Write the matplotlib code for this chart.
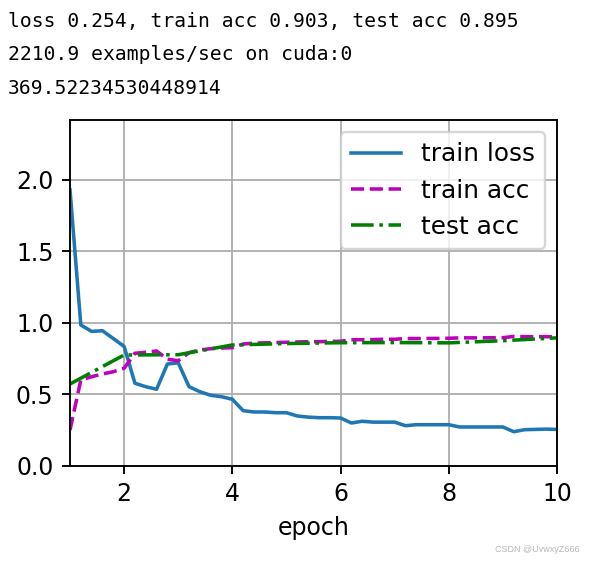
import numpy as np
import matplotlib
matplotlib.use('Agg')
import matplotlib.pyplot as plt

# values (5 records per epoch, test acc once per epoch)
train_x = np.round(np.arange(1.0, 10.01, 0.2), 1)
train_loss = [1.93, 0.985, 0.94, 0.945, 0.89, 0.835,
              0.577, 0.553, 0.535, 0.712, 0.72,
              0.553, 0.518, 0.493, 0.483, 0.465,
              0.385, 0.376, 0.376, 0.371, 0.371,
              0.348, 0.34, 0.336, 0.336, 0.334,
              0.299, 0.311, 0.305, 0.305, 0.305,
              0.28, 0.287, 0.287, 0.287, 0.287,
              0.271, 0.271, 0.271, 0.271, 0.271,
              0.238, 0.252, 0.254, 0.256, 0.254]
train_acc = [0.25, 0.60, 0.623, 0.642, 0.658, 0.682,
             0.787, 0.794, 0.803, 0.745, 0.735,
             0.791, 0.81, 0.819, 0.824, 0.826,
             0.852, 0.858, 0.86, 0.862, 0.864,
             0.866, 0.868, 0.868, 0.87, 0.871,
             0.882, 0.882, 0.883, 0.885, 0.885,
             0.89, 0.89, 0.891, 0.891, 0.892,
             0.895, 0.895, 0.895, 0.896, 0.896,
             0.905, 0.903, 0.903, 0.903, 0.903]
test_x = [1, 2, 3, 4, 5, 6, 7, 8, 9, 10]
test_acc = [0.572, 0.775, 0.777, 0.845, 0.855, 0.861, 0.862, 0.860, 0.875, 0.895]

legend = ['train loss', 'train acc', 'test acc']
printed = ['loss 0.254, train acc 0.903, test acc 0.895',
           '2210.9 examples/sec on cuda:0',
           '369.52234530448914']

fig = plt.figure(figsize=(599 / 170, 561 / 170), dpi=170)
ax = fig.add_axes([70 / 599, 1 - 465.7 / 561, 487 / 599, 345.7 / 561])

ax.plot(train_x, train_loss, '-', color='C0', lw=1.5)
ax.plot(train_x, train_acc, 'm--', lw=1.5)
ax.plot(test_x, test_acc, 'g-.', lw=1.5)

ax.set_xlim(1, 10)
ax.set_ylim(0, 2.42)
ax.set_yticks([0.0, 0.5, 1.0, 1.5, 2.0])
ax.set_xlabel('epoch')
ax.grid(True)
ax.legend(legend, loc='upper right', fontsize=10.5)

for i, line in enumerate(printed):
    fig.text(8 / 599, 1 - (22 + 33 * i) / 561, line, family='DejaVu Sans Mono',
             fontsize=8.3, va='center', ha='left')

fig.text(580 / 599, 1 - 549 / 561, 'CSDN @UvwxyZ666', fontsize=3.8,
         family='Liberation Sans', color='#b8b8b8', ha='right', va='center')

fig.savefig('out.png', dpi=170)
